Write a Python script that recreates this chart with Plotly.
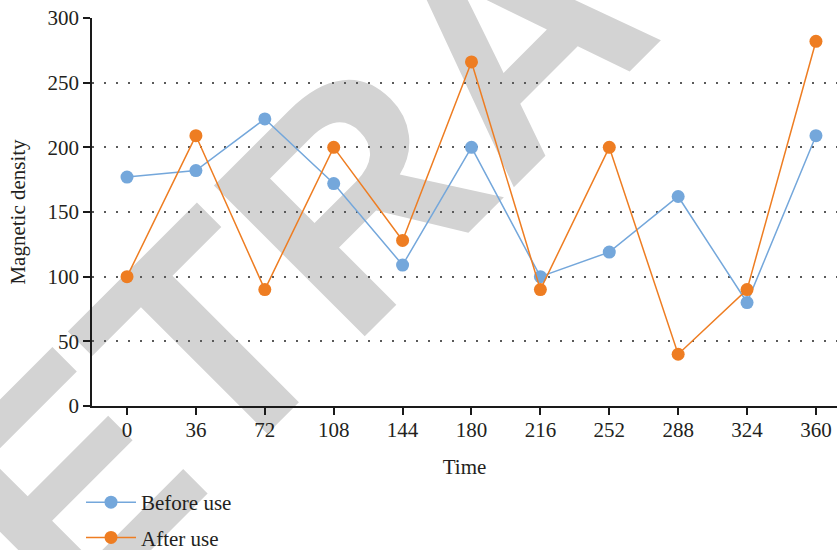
import plotly.graph_objects as go

# Sampling times and measured magnetic density
time = [0, 36, 72, 108, 144, 180, 216, 252, 288, 324, 360]
before_use = [177, 182, 222, 172, 109, 200, 100, 119, 162, 80, 209]
after_use = [100, 209, 90, 200, 128, 266, 90, 200, 40, 90, 282]

series_names = ["Before use", "After use"]
series_colors = ["#74A7DB", "#EE7D22"]

x_ticks = time
y_ticks = [0, 50, 100, 150, 200, 250, 300]

W, H = 837, 550
M_L, M_R, M_T, M_B = 92, 0, 18, 144
serif = "Liberation Serif"
ink = "#231F20"
FS = 21

fig = go.Figure()
for name, ys, col, grp in zip(series_names, [before_use, after_use], series_colors, ["a", "b"]):
    fig.add_trace(go.Scatter(
        x=time, y=ys, name=name, mode="lines+markers", legendgroup=grp,
        line=dict(color=col, width=1.5),
        marker=dict(color=col, size=13, line=dict(width=0)),
    ))

plot_w, plot_h = W - M_L - M_R, H - M_T - M_B


def px_to_paper(px, py):
    return (px - M_L) / plot_w, (H - M_B - py) / plot_h


# Diagonal stamp behind the plot
cx, cy = px_to_paper(491, 17)
eps = 0.001
fig.add_shape(
    type="rect", xref="paper", yref="paper", layer="below",
    x0=cx - eps, x1=cx + eps, y0=cy - eps, y1=cy + eps,
    line=dict(width=0), fillcolor="rgba(0,0,0,0)",
    label=dict(text="RETRACTED", textangle=-45, textposition="middle center",
               font=dict(family="Liberation Sans", size=310, color="#D3D3D3", weight="bold")),
)

lx, ly = px_to_paper(81, 482)
fig.update_layout(
    width=W, height=H,
    margin=dict(l=M_L, r=M_R, t=M_T, b=M_B, pad=0, autoexpand=False),
    paper_bgcolor="white", plot_bgcolor="rgba(0,0,0,0)",
    font=dict(family=serif, size=FS, color=ink),
    showlegend=True,
    legend=dict(
        x=lx, y=ly, xanchor="left", yanchor="top",
        orientation="v", tracegroupgap=5, itemwidth=50,
        font=dict(family=serif, size=FS, color=ink),
        bgcolor="rgba(0,0,0,0)",
    ),
)

fig.update_xaxes(
    range=[-18.3, 371], tickmode="array", tickvals=x_ticks,
    ticktext=[str(v) for v in x_ticks],
    showgrid=False, zeroline=False,
    showline=True, linecolor="#1a1a1a", linewidth=1.5,
    ticks="outside", ticklen=7, tickwidth=1.5, tickcolor="#1a1a1a",
    ticklabelstandoff=-3,
    tickfont=dict(family=serif, size=FS, color=ink),
    title=dict(text="Time", font=dict(family=serif, size=FS, color=ink), standoff=18),
)
fig.update_yaxes(
    range=[0, 300], tickmode="array", tickvals=y_ticks,
    showgrid=True, gridcolor="#5a5a5a", gridwidth=2, griddash="2px,10px",
    zeroline=False,
    showline=True, linecolor="#1a1a1a", linewidth=1.5,
    ticks="outside", ticklen=7, tickwidth=1.5, tickcolor="#1a1a1a",
    tickfont=dict(family=serif, size=FS, color=ink),
    title=dict(text="Magnetic density", font=dict(family=serif, size=FS, color=ink), standoff=16),
)

fig.write_html("out.html")
